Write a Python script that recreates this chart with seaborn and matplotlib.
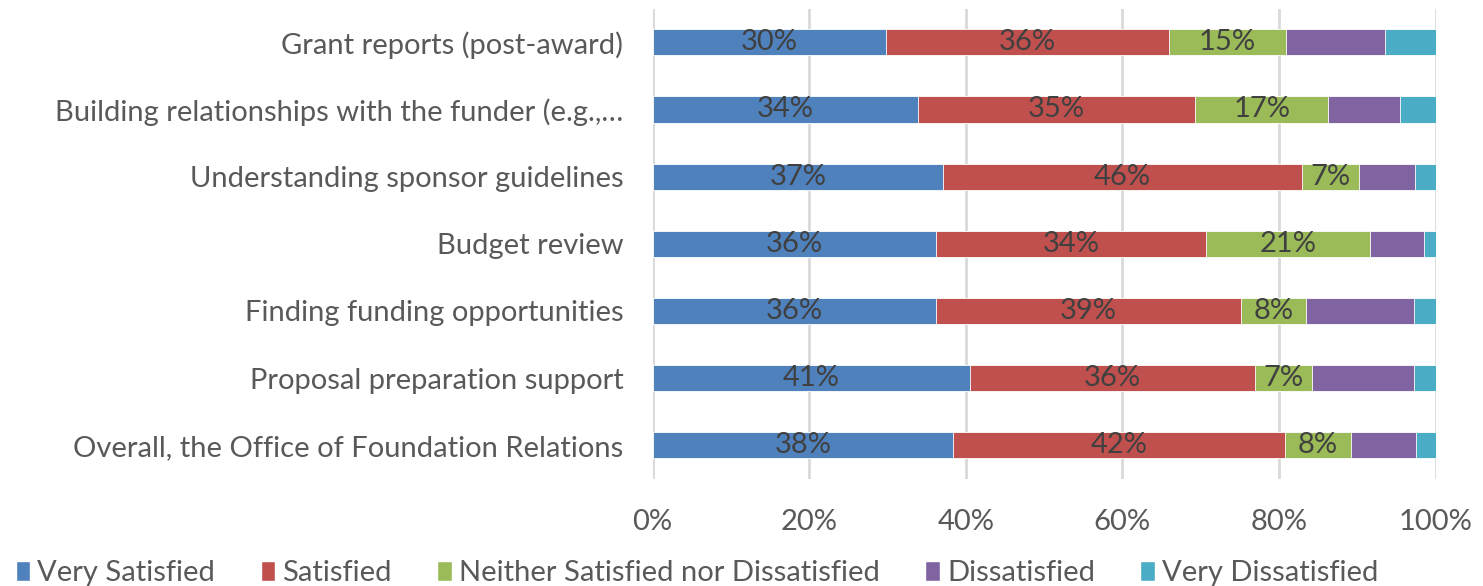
"""Satisfaction survey - stacked horizontal bar chart."""

import matplotlib
matplotlib.use('Agg')
import matplotlib.pyplot as plt
from matplotlib.patches import Patch
import numpy as np
import pandas as pd
import seaborn as sns

# Datos (porcentajes)
categories = [
    'Grant reports (post-award)',
    'Building relationships with the funder (e.g.,…',
    'Understanding sponsor guidelines',
    'Budget review',
    'Finding funding opportunities',
    'Proposal preparation support',
    'Overall, the Office of Foundation Relations',
]
series = ['Very Satisfied', 'Satisfied', 'Neither Satisfied nor Dissatisfied',
          'Dissatisfied', 'Very Dissatisfied']
very_satisfied = [29.8, 33.9, 37.1, 36.2, 36.2, 40.6, 38.4]
satisfied = [36.2, 35.4, 45.8, 34.5, 38.9, 36.3, 42.4]
neither = [14.9, 17.0, 7.3, 20.9, 8.4, 7.3, 8.4]
dissatisfied = [12.7, 9.2, 7.2, 6.9, 13.8, 13.0, 8.3]
very_dissatisfied = [6.4, 4.5, 2.6, 1.5, 2.7, 2.8, 2.5]
labeled = ['Very Satisfied', 'Satisfied', 'Neither Satisfied nor Dissatisfied']
colors = ['#4f81bd', '#c0504d', '#9bbb59', '#8064a2', '#4bacc6']
xticks = [0, 20, 40, 60, 80, 100]

df = pd.DataFrame({
    'category': categories,
    series[0]: very_satisfied,
    series[1]: satisfied,
    series[2]: neither,
    series[3]: dissatisfied,
    series[4]: very_dissatisfied,
})
cum = df[series].cumsum(axis=1)

sns.set_style('white')
plt.rcParams['font.family'] = ['Lato', 'DejaVu Sans']
FS = 21

fig = plt.figure(figsize=(14.83, 5.86), dpi=100)
ax = fig.add_axes([0.44, 0.183, 0.528, 0.802])

# Barras apiladas: dibujar acumulados de mayor a menor
for name, color in reversed(list(zip(series, colors))):
    sns.barplot(x=cum[name], y=df['category'], orient='h', color=color,
                width=0.39, saturation=1, ax=ax, edgecolor='white', linewidth=0.6)

# Etiquetas de datos
for name in labeled:
    i = series.index(name)
    start = cum[series[i - 1]] if i > 0 else 0
    centers = start + df[name] / 2
    for yi, (c, v) in enumerate(zip(centers, df[name])):
        ax.text(c, yi, f'{v:.0f}%', ha='center', va='center',
                fontsize=FS, color='#404040')

ax.set_xlim(0, 100)
ax.set_ylim(6.5, -0.5)
ax.set_xticks(xticks)
ax.set_xticklabels([f'{t}%' for t in xticks])
ax.xaxis.grid(True, color='#d9d9d9', linewidth=2)
ax.set_axisbelow(True)
ax.set_xlabel('')
ax.set_ylabel('')
for s in ax.spines.values():
    s.set_visible(False)
ax.tick_params(axis='x', length=0, pad=22, labelsize=FS, labelcolor='#595959')
ax.tick_params(axis='y', length=0, pad=21, labelsize=FS, labelcolor='#595959')

handles = [Patch(facecolor=c, label=n) for n, c in zip(series, colors)]
fig.legend(handles=handles, loc='lower center', bbox_to_anchor=(0.47, -0.045), ncol=5,
           frameon=False, fontsize=FS, handlelength=0.5, handleheight=0.7,
           handletextpad=0.25, columnspacing=1.55, labelcolor='#595959')

fig.savefig('out.png', dpi=100)
plt.close(fig)
